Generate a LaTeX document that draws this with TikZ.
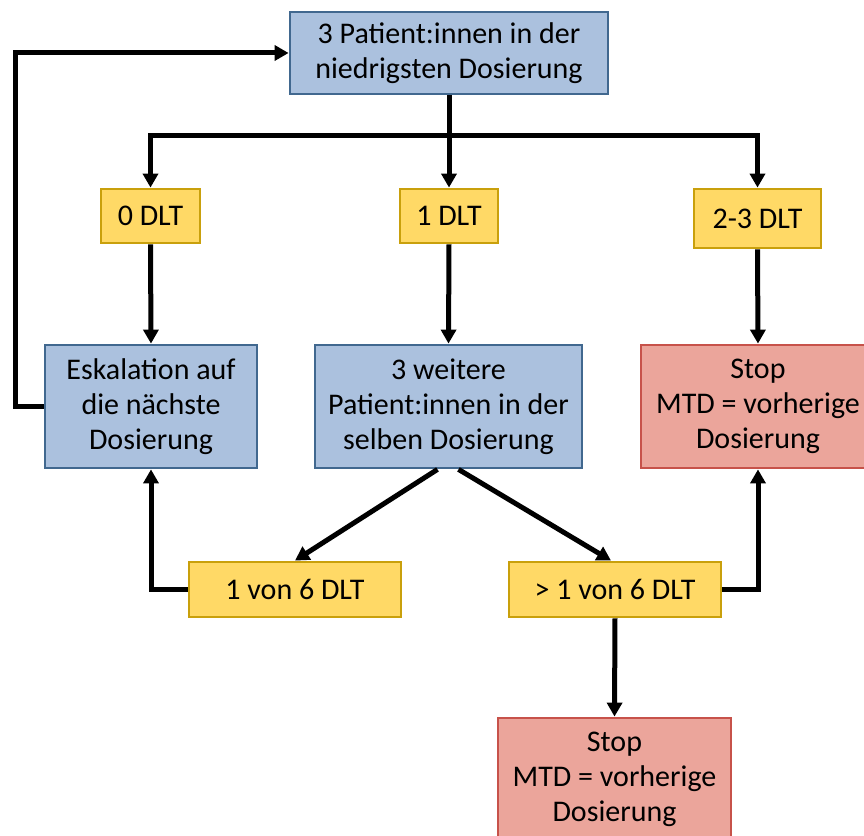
\documentclass[tikz,border=0pt]{standalone}
\usepackage{fontspec}
\setmainfont{Carlito}
\usepackage{xcolor}
\usetikzlibrary{positioning,calc,arrows.meta}
\definecolor{bluefill}{HTML}{ABC1DE}
\definecolor{blueline}{HTML}{41688F}
\definecolor{yelfill}{HTML}{FFD966}
\definecolor{yelline}{HTML}{C9A00C}
\definecolor{redfill}{HTML}{EBA59B}
\definecolor{redline}{HTML}{C7524A}
\tikzset{
  boxbase/.style  = {font=\fontsize{15}{17.5}\selectfont, align=center, inner sep=0pt, line width=1.4pt},
  stepbox/.style  = {boxbase, draw=blueline, fill=bluefill},
  dltbox/.style   = {boxbase, draw=yelline,  fill=yelfill},
  stopbox/.style  = {boxbase, draw=redline,  fill=redfill},
  flow/.style     = {-{Triangle[length=7pt,width=7.5pt]}, draw=black, line width=2.5pt},
}

\begin{document}
\begin{tikzpicture}[x=0.5pt,y=0.5pt]
\path[use as bounding box] (0,0) rectangle (864,836);

% ---- boxes --------------------------------------------------------------
\node[stepbox, minimum width=159pt, minimum height=41pt] (top) at (449,783) {3 Patient:innen in der\\niedrigsten Dosierung};

\node[dltbox, minimum width=49.5pt, minimum height=27pt] (d0)  at (150.5,620) {0 DLT};
\node[dltbox, minimum width=49pt,   minimum height=27pt] (d1)  at (449,620)   {1 DLT};
\node[dltbox, minimum width=63.5pt, minimum height=29.5pt] (d23) at (757.5,617.5) {2-3 DLT};

\node[stepbox, minimum width=106pt,   minimum height=61.5pt] (esk)  at (151,429.5) {Eskalation auf\\die nächste\\Dosierung};
\node[stepbox, minimum width=133.5pt, minimum height=61.5pt] (more) at (448.5,429.5) {3 weitere\\Patient:innen in der\\selben Dosierung};
\node[stopbox, minimum width=117pt,   minimum height=61.5pt] (stopr) at (758,429.5) {Stop\\MTD = vorherige\\Dosierung};

\node[dltbox, minimum width=106pt, minimum height=27.5pt] (v1) at (295,246.5) {1 von 6 DLT};
\node[dltbox, minimum width=106pt, minimum height=27.5pt] (v6) at (615,246.5) {> 1 von 6 DLT};

\node[stopbox, minimum width=116.5pt, minimum height=61.5pt] (stopb) at (614.5,56.5) {Stop\\MTD = vorherige\\Dosierung};

% ---- connectors ---------------------------------------------------------
\coordinate (split) at (449,700);
\coordinate (back)  at (15,429.5);

\draw[flow] (top.south) -- (d1.north);
\draw[flow] (split) -| (d0.north);
\draw[flow] (split) -| (d23.north);

\draw[flow] (d0.south)  -- (esk.north);
\draw[flow] (d1.south)  -- (more.north);
\draw[flow] (d23.south) -- (stopr.north);

\draw[flow] (esk.west) -- (back) |- (top.west);

\draw[flow] ([xshift=-5.5pt]more.south) -- (v1.north);
\draw[flow] ([xshift=5pt]more.south)    -- ([xshift=-2pt]v6.north);

\draw[flow] (v1.west) -| (esk.south);
\draw[flow] (v6.east) -| (stopr.south);
\draw[flow] (v6.south) -- (stopb.north);

\end{tikzpicture}
\end{document}
